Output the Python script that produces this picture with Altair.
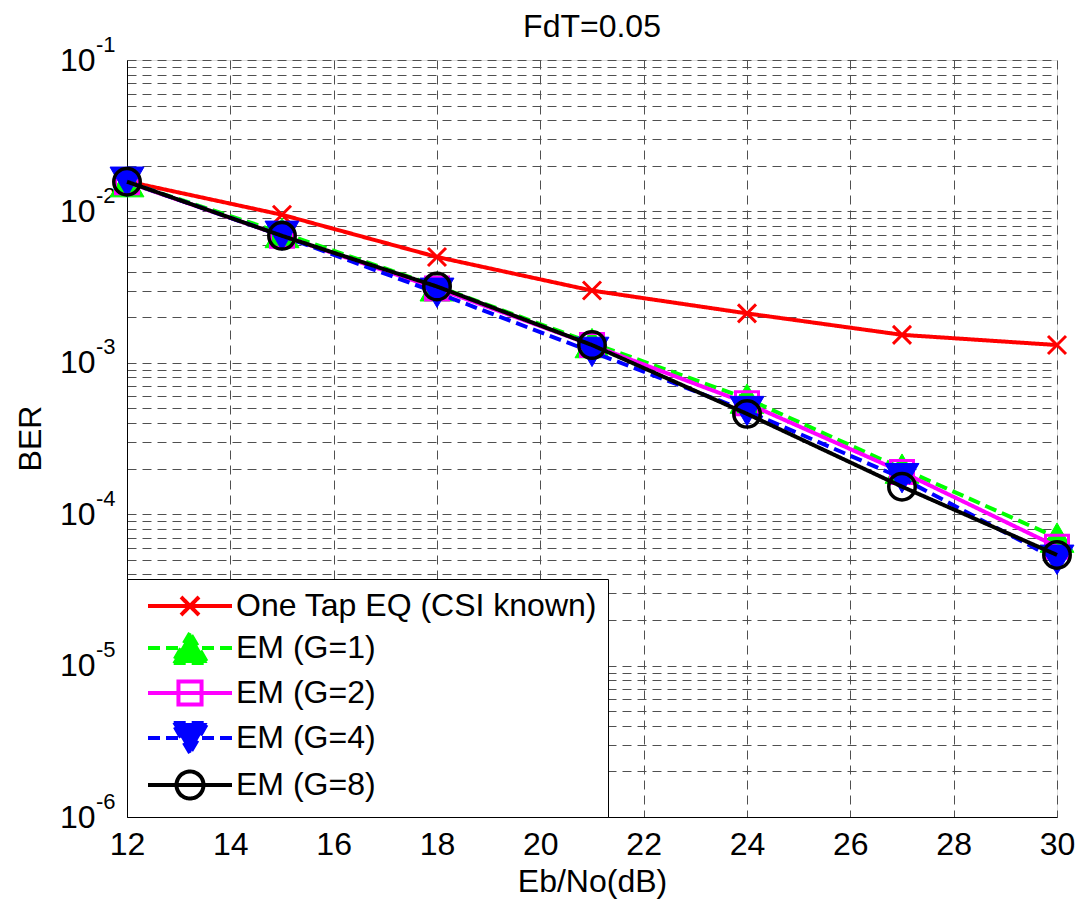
import altair as alt
import pandas as pd

# ---------------- data ----------------
snr = [12, 15, 18, 21, 24, 27, 30]
ber_onetap = [0.0158, 0.0095, 0.0050, 0.0030, 0.00212, 0.00153, 0.00131]
ber_g1 = [0.0156, 0.0072, 0.0032, 0.00135, 0.00058, 0.000200, 0.0000700]
ber_g2 = [0.0156, 0.0069, 0.0031, 0.00131, 0.00054, 0.000190, 0.0000610]
ber_g4 = [0.0157, 0.0069, 0.0029, 0.00118, 0.00048, 0.000173, 0.0000500]
ber_g8 = [0.0157, 0.0069, 0.00319, 0.00131, 0.00046, 0.000152, 0.0000538]

series_names = ["One Tap EQ (CSI known)", "EM (G=1)", "EM (G=2)", "EM (G=4)", "EM (G=8)"]
series_values = [ber_onetap, ber_g1, ber_g2, ber_g4, ber_g8]
x_ticks = [12, 14, 16, 18, 20, 22, 24, 26, 28, 30]

# ---------------- styles ----------------
colors = ["#ff0000", "#00ff00", "#ff00ff", "#0000ff", "#000000"]
dashes = [[1, 0], [12, 6], [1, 0], [12, 6], [1, 0]]
marker_shapes = [
    "M-1,-1L1,1M-1,1L1,-1",
    "triangle-up",
    "square",
    "triangle-down",
    "circle",
]
marker_sizes = [324, 1150, 529, 1150, 700]
marker_filled = [False, True, False, True, False]
marker_stroke = [3, 1, 3, 1, 3.5]

# legend symbols: line + marker (unit = 15 px, symbol side 30 px)
legend_paths = [
    "M-2.8,0H2.8M-0.6,-0.6L0.6,0.6M-0.6,0.6L0.6,-0.6",
    "M-2.8,0H2.8M0,-1L-1.17,1L1.17,1Z",
    "M-2.8,0H2.8M-0.77,-0.77H0.77V0.77H-0.77Z",
    "M-2.8,0H2.8M0,1L-1.17,-1L1.17,-1Z",
    "M-2.8,0H2.8M0.9,0A0.9,0.9 0 1,1 -0.9,0A0.9,0.9 0 1,1 0.9,0Z",
]
legend_fills = ["transparent", "#00ff00", "transparent", "#0000ff", "transparent"]

rows = []
for name, vals in zip(series_names, series_values):
    for s, b in zip(snr, vals):
        rows.append({"snr": s, "ber": b, "series": name})
df = pd.DataFrame(rows)

y_ticks = [float(f"{k}e{e}") for e in range(-6, -1) for k in range(1, 10)] + [0.1]
decades = [float(f"1e{e}") for e in range(-6, 0)]

FONT = "Liberation Sans"
GRID = "#505050"
is_decade = "abs(log(datum.value)/LN10 - round(log(datum.value)/LN10)) < 0.001"

y_scale = alt.Scale(type="log", domain=[1e-6, 1e-1], nice=False)
x_scale = alt.Scale(domain=[12, 30], nice=False, zero=False)

x_enc = alt.X(
    "snr:Q",
    scale=x_scale,
    axis=alt.Axis(
        values=x_ticks,
        grid=True,
        gridDash=[9, 6],
        gridColor=GRID,
        gridWidth=1,
        gridOpacity=1,
        ticks=False,
        domainColor="black",
        labelFontSize=32,
        labelFont=FONT,
        labelColor="black",
        labelPadding=12,
        labelFlush=False,
        title="Eb/No(dB)",
        titleFontSize=32,
        titleFont=FONT,
        titleFontWeight="normal",
        titleColor="black",
        titlePadding=6,
    ),
)

y_enc = alt.Y(
    "ber:Q",
    scale=y_scale,
    axis=alt.Axis(
        values=y_ticks,
        labelExpr=f"{is_decade} ? '10' : ''",
        grid=True,
        gridDash=[9, 6],
        gridColor=GRID,
        gridWidth=1,
        gridOpacity=1,
        ticks=False,
        domainColor="black",
        labelFontSize=32,
        labelFont=FONT,
        labelColor="black",
        labelPadding=32,
        labelFlush=False,
        labelOverlap=False,
        title="BER",
        titleFontSize=32,
        titleFont=FONT,
        titleFontWeight="normal",
        titleColor="black",
        titleX=-97,
        titleY=378,
        titleAngle=270,
        titleAlign="center",
        titleBaseline="middle",
    ),
)

y_exp_enc = alt.Y(
    "ber:Q",
    scale=y_scale,
    axis=alt.Axis(
        orient="left",
        values=decades,
        labelExpr=f"{is_decade} ? '' + round(log(datum.value)/LN10) : ''",
        grid=False,
        ticks=False,
        domain=False,
        labelFontSize=22,
        labelFont=FONT,
        labelColor="black",
        labelPadding=12,
        labelOffset=-16,
        labelFlush=False,
        labelOverlap=False,
        title=None,
    ),
)

base = alt.Chart(df)
layers = []
for i, name in enumerate(series_names):
    sub = base.transform_filter(alt.datum.series == name)
    line = sub.mark_line(
        color=colors[i], strokeWidth=4, strokeDash=dashes[i], clip=False
    ).encode(x=x_enc, y=y_enc)
    pts = sub.mark_point(
        shape=marker_shapes[i],
        size=marker_sizes[i],
        filled=marker_filled[i],
        color=colors[i],
        stroke=colors[i],
        strokeWidth=marker_stroke[i],
        opacity=1,
        clip=False,
    ).encode(x=x_enc, y=y_enc)
    layers += [line, pts]

main = alt.layer(*layers)

legend = alt.Legend(
    title=None,
    orient="bottom-left",
    offset=0,
    symbolSize=900,
    symbolStrokeWidth=4,
    symbolOpacity=1,
    symbolOffset=36,
    labelOffset=29,
    labelFontSize=32,
    labelFont=FONT,
    labelColor="black",
    labelLimit=600,
    strokeColor="black",
    fillColor="white",
    padding=10,
    rowPadding=2,
)

carrier = (
    base.transform_filter("datum.snr < 0")
    .mark_point(strokeWidth=4)
    .encode(
        x=x_enc,
        y=y_exp_enc,
        shape=alt.Shape("series:N", scale=alt.Scale(domain=series_names, range=legend_paths), legend=legend),
        stroke=alt.Stroke("series:N", scale=alt.Scale(domain=series_names, range=colors), legend=legend),
        fill=alt.Fill("series:N", scale=alt.Scale(domain=series_names, range=legend_fills), legend=legend),
        strokeDash=alt.StrokeDash("series:N", scale=alt.Scale(domain=series_names, range=dashes), legend=legend),
    )
)

chart = (
    alt.layer(main, carrier)
    .resolve_axis(y="independent")
    .properties(
        width=930,
        height=757,
        autosize=alt.AutoSizeParams(type="none"),
        padding={"left": 119, "top": 52, "right": 18, "bottom": 85},
        title=alt.TitleParams(
            "FdT=0.05",
            fontSize=32,
            font=FONT,
            fontWeight="normal",
            color="black",
            anchor="middle",
            frame="group",
            baseline="alphabetic",
            offset=-36,
        ),
    )
    .configure_view(stroke="black", strokeWidth=1)
    .configure(background="white")
)

chart.save("out.html", embed_options={"renderer": "svg", "actions": False})
